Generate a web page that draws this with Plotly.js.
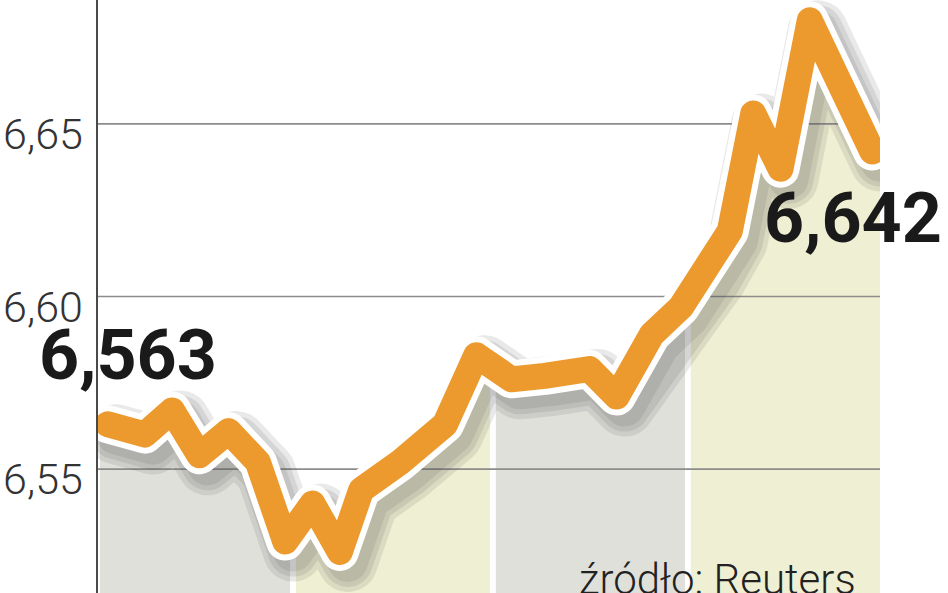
<!DOCTYPE html>
<html>
<head>
<meta charset="utf-8">
<script src="https://cdn.plot.ly/plotly-3.0.1.min.js"></script>
<style>
  html, body { margin: 0; padding: 0; background: #fff; }
  #chart { width: 948px; height: 593px; }
  .scatterlayer .js-line { stroke-linejoin: round !important; stroke-linecap: round !important; }
</style>
</head>
<body>
<div id="chart"></div>
<script>
// ---- data ----
const pos = [0.4, 2.3, 3.7, 5.1, 6.6, 8.1, 9.5, 10.9, 12.3, 13.4, 15.4, 17.7, 19.3,
             21.1, 22.8, 25.1, 26.5, 28.3, 29.8, 31.2, 32.3, 33.5, 34.9, 36.4, 38.3, 39.6];
const rate = [6.563, 6.560, 6.567, 6.554, 6.561, 6.552, 6.529, 6.540, 6.526, 6.544, 6.552, 6.563, 6.583,
              6.576, 6.577, 6.579, 6.571, 6.589, 6.597, 6.608, 6.619, 6.653, 6.637, 6.680, 6.655, 6.642];
const tickVals = [6.55, 6.60, 6.65];
const tickText = ["6,55", "6,60", "6,65"];
const bandEdges = [0, 9.9, 20.15, 30.15, 40];
const bandColors = ["#e0e0db", "#efefd3", "#e0e0db", "#efefd3"];
const firstLabel = "6,563";
const lastLabel = "6,642";
const sourceText = "źródło: Reuters";

// ---- layout helpers ----
const xRange = [-0.1, 40];
const yRange = [6.5141, 6.6859];
const gap = 0.15;

const shapes = bandColors.map((c, i) => ({
  type: 'rect', layer: 'below', xref: 'x', yref: 'paper',
  x0: bandEdges[i] + (i === 0 ? 0 : gap), x1: bandEdges[i + 1] - (i === bandColors.length - 1 ? 0 : gap),
  y0: 0, y1: 1, fillcolor: c, line: { width: 0 }
}));

// white mask above the line (so bands only show under the curve)
const n = rate.length;
const maskX = [bandEdges[0]].concat(pos, [bandEdges[4], bandEdges[4], bandEdges[0]]);
const maskY = [rate[0]].concat(rate, [rate[n - 1], yRange[1], yRange[1]]);

// gridlines drawn as a trace so they stay visible over the mask
const gx = [], gy = [];
tickVals.forEach(t => { gx.push(xRange[0], bandEdges[4], null); gy.push(t, t, null); });

const shadowWidths = [60, 50, 40];
const traces = [
  { x: maskX, y: maskY, type: 'scatter', mode: 'lines', fill: 'toself', fillcolor: '#ffffff',
    line: { width: 0, color: 'rgba(0,0,0,0)' }, hoverinfo: 'skip', showlegend: false },
  { x: gx, y: gy, type: 'scatter', mode: 'lines', line: { color: '#8c8c8c', width: 1.6 },
    hoverinfo: 'skip', showlegend: false, connectgaps: false }
].concat(shadowWidths.map(w => ({
    x: pos, y: rate, type: 'scatter', mode: 'lines', line: { color: 'rgba(70,70,70,0.12)', width: w },
    hoverinfo: 'skip', showlegend: false }))
).concat([
  { x: pos, y: rate, type: 'scatter', mode: 'lines', line: { color: '#ffffff', width: 38 },
    hoverinfo: 'skip', showlegend: false },
  { x: pos, y: rate, type: 'scatter', mode: 'lines', line: { color: '#ec9a2e', width: 26 },
    hoverinfo: 'skip', showlegend: false }
]);

const layout = {
  width: 948, height: 593,
  margin: { l: 98, r: 68, t: 0, b: 0, pad: 0 },
  paper_bgcolor: '#ffffff', plot_bgcolor: 'rgba(0,0,0,0)',
  showlegend: false,
  xaxis: { range: xRange, visible: false, fixedrange: true },
  yaxis: {
    range: yRange, tickvals: tickVals, ticktext: tickText, showgrid: false, zeroline: false,
    showline: true, linecolor: '#4a4a4a', linewidth: 2.5, layer: 'below traces', ticks: '',
    ticklabelstandoff: 4, ticklabelshift: 10,
    tickfont: { family: 'Roboto, "DejaVu Sans", sans-serif', size: 43, color: '#333', weight: 300 },
    fixedrange: true
  },
  shapes: shapes,
  annotations: [
    { x: 1.45, y: 6.5831, xref: 'x', yref: 'y', text: firstLabel, showarrow: false,
      xanchor: 'center', yanchor: 'middle',
      font: { family: 'Roboto, "Liberation Sans", sans-serif', size: 70, color: '#1a1a1a', weight: 700 } },
    { x: 38.6, y: 6.6228, xref: 'x', yref: 'y', text: lastLabel, showarrow: false,
      xanchor: 'center', yanchor: 'middle',
      font: { family: 'Roboto, "Liberation Sans", sans-serif', size: 70, color: '#1a1a1a', weight: 700 } },
    { x: 0.612, y: 0.068, xref: 'paper', yref: 'paper', text: sourceText, showarrow: false,
      xanchor: 'left', yanchor: 'top',
      font: { family: 'Roboto, "DejaVu Sans", sans-serif', size: 42, color: '#222', weight: 300 } }
  ]
};

Plotly.newPlot('chart', traces, layout, { staticPlot: true, displayModeBar: false }).then(gd => {
  // offset the soft shadow lines down-right
  const tr = gd.querySelectorAll('.scatterlayer .trace');
  for (let i = 2; i < 2 + shadowWidths.length; i++) {
    const p = tr[i] && tr[i].querySelector('.js-line');
    if (p) p.setAttribute('transform', 'translate(8,10)');
  }
});
</script>
</body>
</html>
